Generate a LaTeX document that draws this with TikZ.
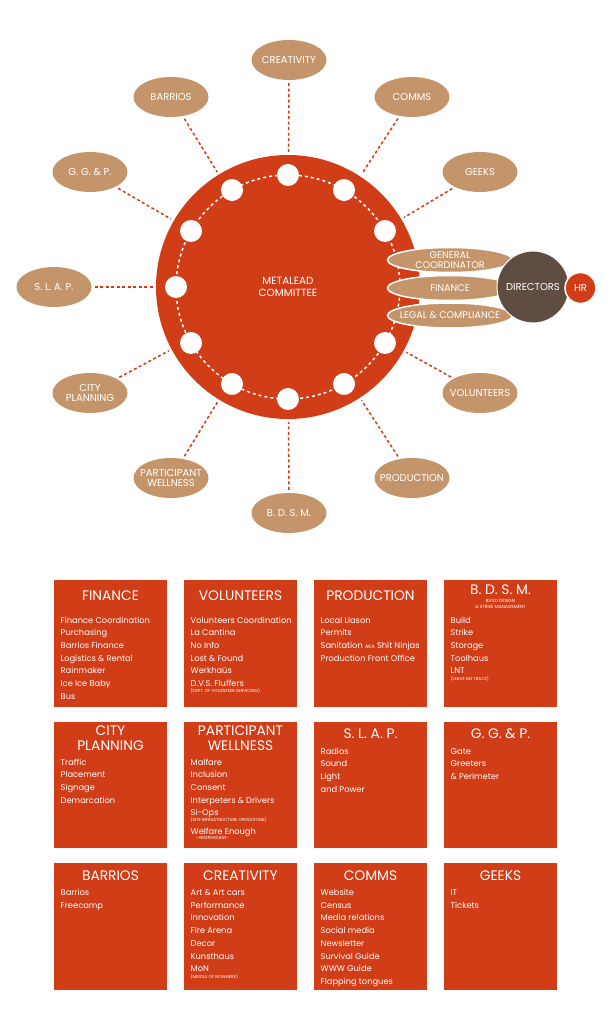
\documentclass[tikz,border=0pt]{standalone}
\usepackage{fontspec}
\setmainfont{Poppins}
\usetikzlibrary{shapes.geometric, positioning, calc}
\definecolor{metared}{RGB}{208, 61, 23}
\definecolor{teamtan}{RGB}{196, 149, 106}
\definecolor{boardbrown}{RGB}{95, 77, 66}

\begin{document}
\begin{tikzpicture}[
    x=1pt, y=-1pt,
    metacircle/.style={circle, fill=metared, minimum size=264pt, inner sep=0pt, text=white, align=center, font=\fontsize{10.4}{12}\selectfont},
    seat/.style={circle, fill=white, minimum size=22pt, inner sep=0pt},
    team/.style={ellipse, fill=teamtan, minimum width=75pt, minimum height=40pt, inner xsep=-8pt, inner ysep=-2pt, text=white, align=center, font=\fontsize{10}{10}\selectfont},
    core/.style={team, draw=white, line width=1.5pt, minimum width=125pt, minimum height=25pt, inner xsep=-9pt, inner ysep=-3pt, font=\fontsize{9.6}{9.8}\selectfont},
    link/.style={draw=metared, line width=1.5pt, dash pattern=on 3pt off 2.5pt, shorten <=3pt, shorten >=3pt},
    dept/.style={rectangle, fill=metared, minimum width=113pt, minimum height=126.5pt, anchor=north west, inner sep=0pt},
    depttitle/.style={text=white, align=center, inner sep=0pt, font=\fontsize{13.8}{15}\selectfont},
    items/.style={text=white, align=left, anchor=base west, inner sep=0pt, font=\fontsize{8.3}{12.7}\selectfont},
    note/.style={text=white, anchor=base west, inner sep=0pt, font=\fontsize{4.3}{6}\selectfont}
]
    \useasboundingbox (0,0) rectangle (612,1024);

    % metalead committee
    \node[metacircle] (metalead) at (288,287) {METALEAD\\COMMITTEE};
    \draw[white, line width=1.5pt, dash pattern=on 3pt off 3pt] (metalead.center) circle [radius=112pt];
    \node[seat] (s1) at ([shift={(30:112)}]metalead.center) {};
    \node[seat] (s2) at ([shift={(60:112)}]metalead.center) {};
    \node[seat] (s3) at ([shift={(90:112)}]metalead.center) {};
    \node[seat] (s4) at ([shift={(120:112)}]metalead.center) {};
    \node[seat] (s5) at ([shift={(150:112)}]metalead.center) {};
    \node[seat] (s6) at ([shift={(180:112)}]metalead.center) {};
    \node[seat] (s7) at ([shift={(210:112)}]metalead.center) {};
    \node[seat] (s8) at ([shift={(240:112)}]metalead.center) {};
    \node[seat] (s9) at ([shift={(270:112)}]metalead.center) {};
    \node[seat] (s10) at ([shift={(300:112)}]metalead.center) {};
    \node[seat] (s11) at ([shift={(330:112)}]metalead.center) {};

    % teams around
    \node[team] (creativity) at (289,60) {CREATIVITY};
    \node[team] (comms) at (412,97) {COMMS};
    \node[team] (geeks) at (480,172) {GEEKS};
    \node[team] (volunteers) at (480,393) {VOLUNTEERS};
    \node[team] (production) at (412,478) {PRODUCTION};
    \node[team] (bdsm) at (289,513) {B. D. S. M.};
    \node[team] (wellness) at (171,478) {PARTICIPANT\\WELLNESS};
    \node[team] (planning) at (90,393) {CITY\\PLANNING};
    \node[team] (slap) at (54,287) {S. L. A. P.};
    \node[team] (ggp) at (90,172) {G. G. \& P.};
    \node[team] (barrios) at (171,97) {BARRIOS};

    \draw[link] (creativity) -- (metalead);
    \draw[link] (comms) -- (metalead);
    \draw[link] (geeks) -- (metalead);
    \draw[link] (volunteers) -- (metalead);
    \draw[link] (production) -- (metalead);
    \draw[link] (bdsm) -- (metalead);
    \draw[link] (wellness) -- (metalead);
    \draw[link] (planning) -- (metalead);
    \draw[link] (slap) -- (metalead);
    \draw[link] (ggp) -- (metalead);
    \draw[link] (barrios) -- (metalead);

    % directors side
    \node[core] (gencoord) at (450,260) {GENERAL\\COORDINATOR};
    \node[core] (finance) at (450,288) {FINANCE};
    \node[core] (legal) at (450,315.5) {LEGAL \& COMPLIANCE};
    \node[circle, fill=boardbrown, draw=white, line width=1pt, minimum size=72pt, inner sep=0pt, text=white, font=\fontsize{10}{10}\selectfont] (directors) at (533,287) {DIRECTORS};
    \node[circle, fill=metared, draw=white, line width=1.5pt, minimum size=31pt, inner sep=0pt, text=white, font=\fontsize{10}{10}\selectfont] (hr) at (580.5,288) {HR};

    % row 1 (list nodes sit on the baseline of their last line)
    \node[dept] (bfinance) at (54,580) {};
    \node[dept] (bvolunteers) at (184,580) {};
    \node[dept] (bproduction) at (314,580) {};
    \node[dept] (bbdsm) at (444,580) {};
    \node[depttitle] at (110.5,596) {FINANCE};
    \node[depttitle] at (240.5,596) {VOLUNTEERS};
    \node[depttitle] at (370.5,596) {PRODUCTION};
    \node[depttitle] at (500.5,590) {B. D. S. M.};
    \node[depttitle, font=\fontsize{4.5}{6}\selectfont] at (500.5,603.7) {BUILD DESIGN\\\& STRIKE MANAGEMENT};
    \node[items] at (60.5,699.2) {Finance Coordination\\Purchasing\\Barrios Finance\\Logistics \& Rental\\Rainmaker\\Ice Ice Baby\\Bus};
    \node[items] at (190.5,686.5) {Volunteers Coordination\\La Cantina\\No Info\\Lost \& Found\\Werkhaüs\\D.V.S. Fluffers};
    \node[note] at (190.5,692.5) {(DEPT. OF VOLUNTEER SERVICING)};
    \node[items] at (320.5,661.1) {Local Liason\\Permits\\Sanitation {\fontsize{5}{6}\selectfont AKA} Shit Ninjas\\Production Front Office};
    \node[items] at (450.5,673.8) {Build\\Strike\\Storage\\Toolhaus\\LNT};
    \node[note] at (450.5,680) {(LEAVE NO TRACE)};

    % row 2
    \node[dept] (bplanning) at (54,721.5) {};
    \node[dept] (bwellness) at (184,721.5) {};
    \node[dept] (bslap) at (314,721.5) {};
    \node[dept] (bggp) at (444,721.5) {};
    \node[depttitle] at (110.5,738.5) {CITY\\PLANNING};
    \node[depttitle] at (240.5,738.5) {PARTICIPANT\\WELLNESS};
    \node[depttitle] at (370.5,734) {S. L. A. P.};
    \node[depttitle] at (500.5,734) {G. G. \& P.};
    \node[items] at (60.5,803.1) {Traffic\\Placement\\Signage\\Demarcation};
    \node[items] at (190.5,815.8) {Malfare\\Inclusion\\Consent\\Interpeters \& Drivers\\Si-Ops};
    \node[note] at (190.5,821.5) {(SITE INFRASTRUCTURE OPERATIONS)};
    \node[items] at (190.5,834) {Welfare Enough};
    \node[note] at (196,839.5) {-INDEPENDANT-};
    \node[items] at (320.5,792.1) {Radios\\Sound\\Light\\and Power};
    \node[items] at (450.5,779.4) {Gate\\Greeters\\\& Perimeter};

    % row 3
    \node[dept] (bbarrios) at (54,863) {};
    \node[dept] (bcreativity) at (184,863) {};
    \node[dept] (bcomms) at (314,863) {};
    \node[dept] (bgeeks) at (444,863) {};
    \node[depttitle] at (110.5,876) {BARRIOS};
    \node[depttitle] at (240.5,876) {CREATIVITY};
    \node[depttitle] at (370.5,876) {COMMS};
    \node[depttitle] at (500.5,876) {GEEKS};
    \node[items] at (60.5,908.2) {Barrios\\Freecamp};
    \node[items] at (190.5,971.7) {Art \& Art cars\\Performance\\Innovation\\Fire Arena\\Decor\\Kunsthaus\\MoN};
    \node[note] at (190.5,978) {(MIDDLE OF NOWHERE)};
    \node[items] at (320.5,984.4) {Website\\Census\\Media relations\\Social media\\Newsletter\\Survival Guide\\WWW Guide\\Flapping tongues};
    \node[items] at (450.5,908.2) {IT\\Tickets};
\end{tikzpicture}
\end{document}
